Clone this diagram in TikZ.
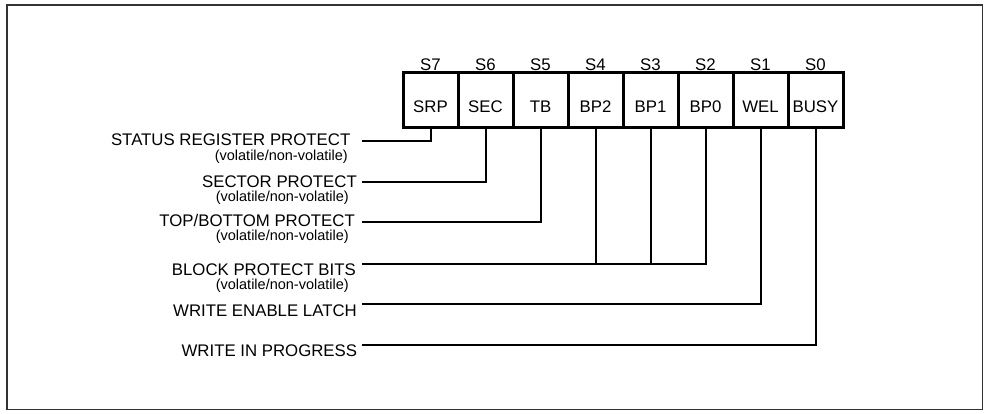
\documentclass[tikz,border=0pt]{standalone}
\usepackage{fontspec}
\setmainfont{Liberation Sans}
\usetikzlibrary{positioning}
\definecolor{myframecolor}{HTML}{333333}

\tikzset{
  bitbox/.style={draw, line width=3pt, fill=white, rectangle, minimum width=55pt, minimum height=55pt, inner sep=0pt, text height=25pt, text depth=0pt, font=\fontsize{16.8pt}{16.8pt}\selectfont},
  bitname/.style={inner sep=0pt, font=\fontsize{16.8pt}{16.8pt}\selectfont},
  fieldname/.style={inner sep=0pt, anchor=base east, font=\fontsize{16.8pt}{16.8pt}\selectfont},
  fieldnote/.style={inner sep=0pt, anchor=base east, font=\fontsize{14.5pt}{14.5pt}\selectfont},
  wire/.style={line width=2pt},
}

\begin{document}
\begin{tikzpicture}[x=1pt, y=-1pt]%
\useasboundingbox (0,0) rectangle (988,414);%
\draw[myframecolor, line width=1.5pt] (7,5) rectangle (982.5,409.5);%
% status register bits
\node[bitbox] (srp) at (430.5, 100.5) {SRP};%
\node[bitbox] (sec) at (485.5, 100.5) {SEC};%
\node[bitbox] (tb) at (540.5, 100.5) {TB};%
\node[bitbox] (bp2) at (595.5, 100.5) {BP2};%
\node[bitbox] (bp1) at (650.5, 100.5) {BP1};%
\node[bitbox] (bp0) at (705.5, 100.5) {BP0};%
\node[bitbox] (wel) at (760.5, 100.5) {WEL};%
\node[bitbox] (busy) at (815.5, 100.5) {BUSY};%
\node[bitname, above=1pt of srp] (s7) {S7};%
\node[bitname, above=1pt of sec] (s6) {S6};%
\node[bitname, above=1pt of tb] (s5) {S5};%
\node[bitname, above=1pt of bp2] (s4) {S4};%
\node[bitname, above=1pt of bp1] (s3) {S3};%
\node[bitname, above=1pt of bp0] (s2) {S2};%
\node[bitname, above=1pt of wel] (s1) {S1};%
\node[bitname, above=1pt of busy] (s0) {S0};%
% field descriptions
\node[fieldname] (srpname) at (350.5, 145.7) {STATUS REGISTER PROTECT};%
\node[fieldnote] (srpnote) at (348, 160.5) {(volatile/non-volatile)};%
\node[fieldname] (secname) at (357, 187.5) {SECTOR PROTECT};%
\node[fieldnote] (secnote) at (349, 202) {(volatile/non-volatile)};%
\node[fieldname] (tbname) at (355, 227) {TOP/BOTTOM PROTECT};%
\node[fieldnote] (tbnote) at (349, 240.5) {(volatile/non-volatile)};%
\node[fieldname] (bpname) at (356, 275) {BLOCK PROTECT BITS};%
\node[fieldnote] (bpnote) at (349, 289.5) {(volatile/non-volatile)};%
\node[fieldname] (welname) at (357, 316) {WRITE ENABLE LATCH};%
\node[fieldname] (busyname) at (357.3, 356) {WRITE IN PROGRESS};%
% wires
\coordinate (srpend) at (362, 141);%
\coordinate (secend) at (362, 182);%
\coordinate (tbend) at (362, 222);%
\coordinate (bpend) at (362, 264);%
\coordinate (welend) at (362, 304);%
\coordinate (busyend) at (362, 345);%
\draw[wire] (srp.south) |- (srpend);%
\draw[wire] (sec.south) |- (secend);%
\draw[wire] (tb.south) |- (tbend);%
\draw[wire] (bp0.south) |- (bpend);%
\draw[wire] (bp1.south) -- (bp1.south |- bpend);%
\draw[wire] (bp2.south) -- (bp2.south |- bpend);%
\draw[wire] (wel.south) |- (welend);%
\draw[wire] (busy.south) |- (busyend);%
\end{tikzpicture}
\end{document}
